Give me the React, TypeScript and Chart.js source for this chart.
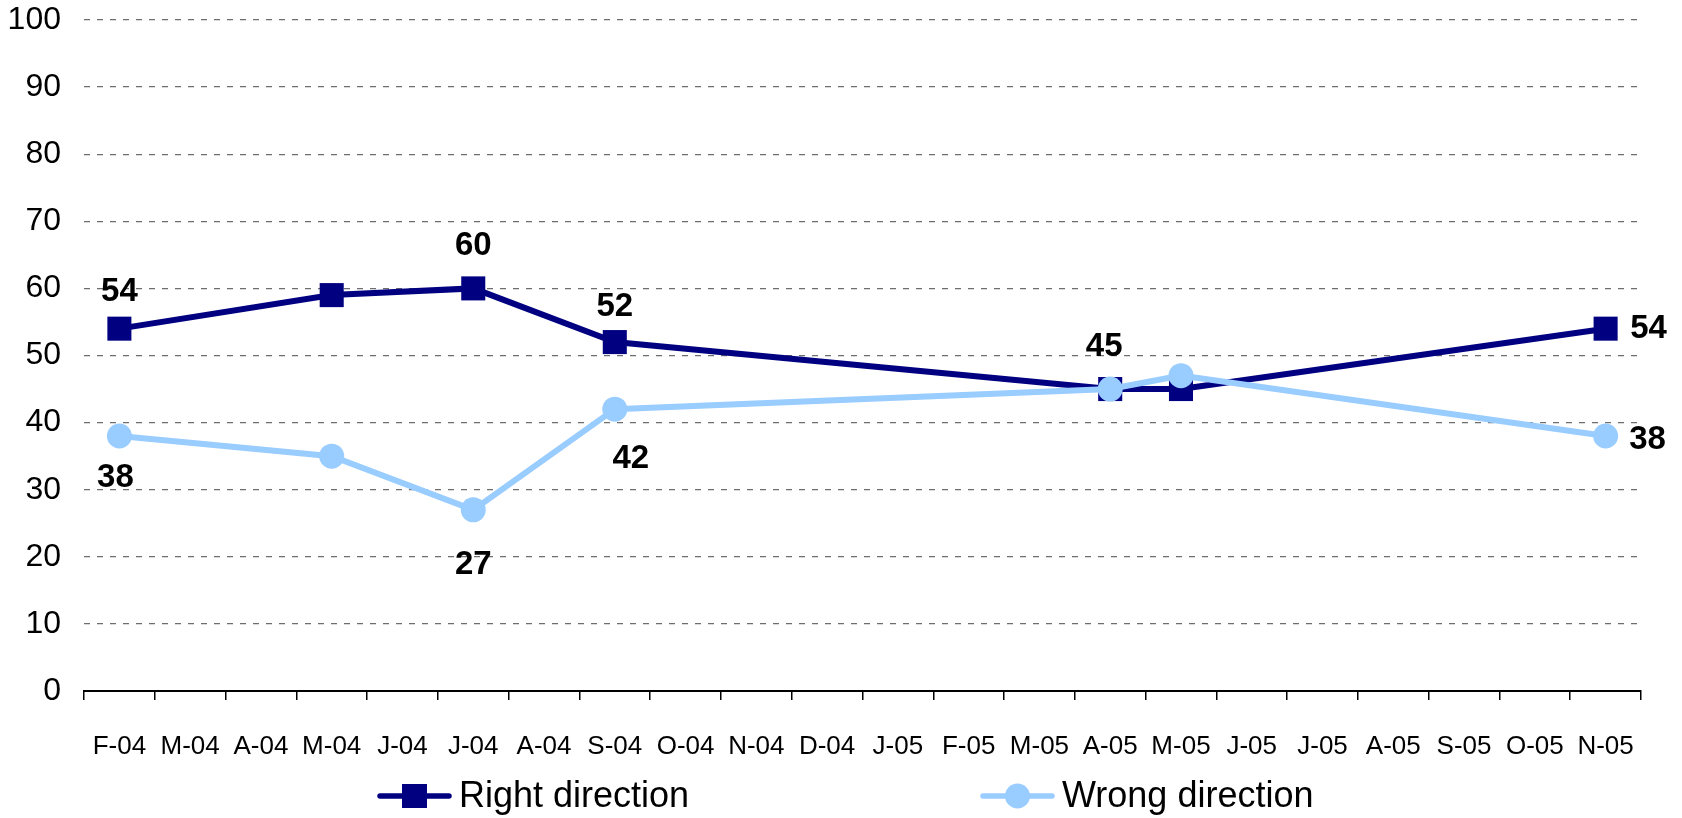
import React, { useEffect, useRef } from 'react';
import { Chart, registerables } from 'chart.js';

Chart.register(...registerables);

// ---- Data ----
const categories = [
  'F-04', 'M-04', 'A-04', 'M-04', 'J-04', 'J-04', 'A-04', 'S-04', 'O-04', 'N-04', 'D-04',
  'J-05', 'F-05', 'M-05', 'A-05', 'M-05', 'J-05', 'J-05', 'A-05', 'S-05', 'O-05', 'N-05',
];
const rightDirection: (number | null)[] = [
  54, null, null, 59, null, 60, null, 52, null, null, null,
  null, null, null, 45, 45, null, null, null, null, null, 54,
];
const wrongDirection: (number | null)[] = [
  38, null, null, 35, null, 27, null, 42, null, null, null,
  null, null, null, 45, 47, null, null, null, null, null, 38,
];
const seriesNames = ['Right direction', 'Wrong direction'];
const yMin = 0;
const yMax = 100;
const yStep = 10;

// ---- Styling / label placement (pixel offsets from the point) ----
const FONT = "'Liberation Sans', Arial, Helvetica, sans-serif";
const DARK = '#000080';
const LIGHT = '#99CCFF';
const labelPlacement: Record<number, [number, number]>[] = [
  { 0: [0, -37], 5: [0, -42], 7: [0, -35], 14: [-6, -42], 21: [43, 0] },
  { 0: [-4, 42], 5: [0, 55], 7: [16, 50], 21: [42, 4] },
];

const dataLabelPlugin = {
  id: 'dataLabels',
  afterDatasetsDraw(chart: any) {
    const ctx = chart.ctx;
    ctx.save();
    ctx.font = `bold 33px ${FONT}`;
    ctx.fillStyle = '#000';
    ctx.textAlign = 'center';
    ctx.textBaseline = 'middle';
    chart.data.datasets.forEach((ds: any, di: number) => {
      const meta = chart.getDatasetMeta(di);
      const place = labelPlacement[di];
      Object.keys(place).forEach((k) => {
        const i = Number(k);
        const el = meta.data[i];
        const v = ds.data[i];
        if (!el || v == null) return;
        const [dx, dy] = place[i];
        ctx.fillText(String(v), el.x + dx, el.y + dy);
      });
    });
    ctx.restore();
  },
};

const legendPlugin = {
  id: 'customLegend',
  afterDraw(chart: any) {
    const ctx = chart.ctx;
    const y = 796;
    const items = [
      { x: 380, color: DARK, shape: 'rect', text: seriesNames[0] },
      { x: 983, color: LIGHT, shape: 'circle', text: seriesNames[1] },
    ];
    ctx.save();
    items.forEach((it) => {
      ctx.strokeStyle = it.color;
      ctx.lineWidth = 5.5;
      ctx.lineCap = 'round';
      ctx.beginPath();
      ctx.moveTo(it.x, y);
      ctx.lineTo(it.x + 69, y);
      ctx.stroke();
      ctx.fillStyle = it.color;
      const cx = it.x + 34.5;
      if (it.shape === 'rect') {
        ctx.fillRect(cx - 12.5, y - 12, 25, 24);
      } else {
        ctx.beginPath();
        ctx.arc(cx, y, 12.5, 0, Math.PI * 2);
        ctx.fill();
      }
      ctx.fillStyle = '#000';
      ctx.font = `36px ${FONT}`;
      ctx.textAlign = 'left';
      ctx.textBaseline = 'middle';
      ctx.fillText(it.text, it.x + 79, y + 1);
    });
    ctx.restore();
  },
};

export default function App() {
  const canvasRef = useRef<HTMLCanvasElement | null>(null);

  useEffect(() => {
    if (!canvasRef.current) return;
    const chart = new Chart(canvasRef.current, {
      type: 'line',
      data: {
        labels: categories,
        datasets: [
          {
            label: seriesNames[0],
            data: rightDirection,
            borderColor: DARK,
            backgroundColor: DARK,
            borderWidth: 6,
            pointStyle: 'rect',
            pointRadius: 17,
            pointBorderWidth: 0,
            pointBackgroundColor: DARK,
            spanGaps: true,
            tension: 0,
            order: 1,
          },
          {
            label: seriesNames[1],
            data: wrongDirection,
            borderColor: LIGHT,
            backgroundColor: LIGHT,
            borderWidth: 6,
            pointStyle: 'circle',
            pointRadius: 12.5,
            pointBorderWidth: 0,
            pointBackgroundColor: LIGHT,
            spanGaps: true,
            tension: 0,
            order: 0,
          },
        ],
      },
      options: {
        responsive: false,
        animation: false,
        devicePixelRatio: 1,
        layout: { padding: { left: 0, right: 41, top: 20, bottom: 27 } },
        plugins: {
          legend: { display: false },
          tooltip: { enabled: false },
        },
        scales: {
          x: {
            type: 'category',
            offset: true,
            clip: false,
            grid: {
              offset: true,
              drawOnChartArea: false,
              drawTicks: true,
              tickLength: 9,
              color: '#000',
              lineWidth: 1.5,
            },
            border: { display: true, color: '#000', width: 2 },
            ticks: {
              autoSkip: false,
              maxRotation: 0,
              minRotation: 0,
              padding: 31,
              color: '#000',
              font: { family: FONT, size: 26 },
            },
            afterFit(scale: any) {
              scale.height = 100;
            },
          },
          y: {
            min: yMin,
            max: yMax,
            ticks: {
              stepSize: yStep,
              padding: 23,
              color: '#000',
              font: { family: FONT, size: 32 },
            },
            grid: {
              drawTicks: false,
              color: (c: any) => (c.tick && c.tick.value === 0 ? 'rgba(0,0,0,0)' : '#6e6e6e'),
              lineWidth: 1.2,
            },
            border: { display: false, dash: [6, 7] },
            afterFit(scale: any) {
              scale.width = 84;
              scale.paddingTop = 0;
              scale.paddingBottom = 0;
            },
          },
        },
      } as any,
      plugins: [dataLabelPlugin, legendPlugin],
    });
    return () => chart.destroy();
  }, []);

  return (
    <div style={{ position: 'fixed', left: 0, top: 0, width: 1682, height: 818, background: '#fff' }}>
      <canvas ref={canvasRef} width={1682} height={818} style={{ display: 'block' }} />
    </div>
  );
}
